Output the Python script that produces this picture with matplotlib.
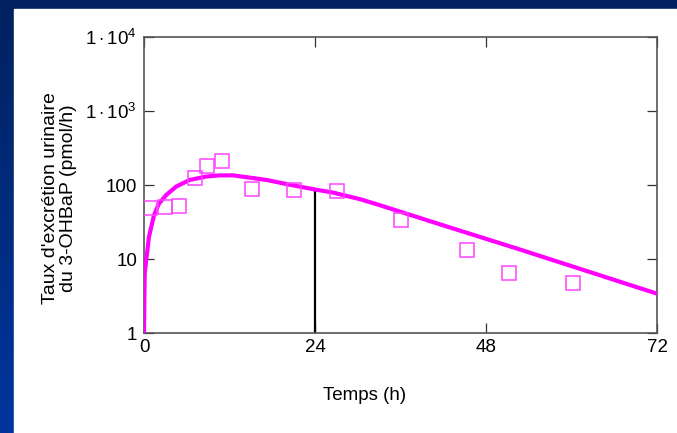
"""Urinary excretion rate of 3-OHBaP vs time, log scale."""

import matplotlib

matplotlib.use("Agg")
import matplotlib.pyplot as plt
import numpy as np
from matplotlib.patches import Rectangle

plt.rcParams["font.family"] = ["Liberation Sans", "DejaVu Sans"]
plt.rcParams["mathtext.fontset"] = "custom"
plt.rcParams["mathtext.rm"] = "Liberation Sans"
plt.rcParams["mathtext.it"] = "Liberation Sans:italic"
plt.rcParams["mathtext.bf"] = "Liberation Sans:bold"

# observed points (h, pmol/h)
obs_t = [0.8, 3.0, 4.9, 7.1, 8.9, 11.0, 15.1, 21.1, 27.1, 36.1, 45.3, 51.2, 60.2]
obs_y = [48.5, 50, 52.6, 125, 181, 211, 89, 85, 82, 33.7, 13.4, 6.5, 4.7]

# model curve
fit_t = [0.0, 0.05, 0.1, 0.33, 0.7, 1.4, 2.1, 3.1, 4.5, 6.4, 8.7, 10.6,
         12.5, 17.2, 20.0, 23.8, 26.6, 30.4, 33.0, 42.6, 52.7, 61.4, 72.0]
fit_y = [1.0, 3.0, 6.4, 10, 20, 39, 56, 73, 95, 117, 130, 135,
         135, 117, 103, 87.6, 78.7, 64, 53.7, 27.3, 13.5, 7.25, 3.4]

# vertical marker at 24 h
mark_t = 24
mark_top = 82

yticks = [1, 10, 100, 1000, 10000]
ylabels = ["1", "10", "100", r"$1\cdot10^{3}$", r"$1\cdot10^{4}$"]
xticks = [0, 24, 48, 72]

FS = 13.5
W, H = 677, 433
fig = plt.figure(figsize=(W / 100, H / 100), dpi=100)

# blue gradient frame + white panel
bg = fig.add_axes([0, 0, 1, 1], zorder=-10)
grad = np.linspace(0, 1, 256).reshape(-1, 1)
top = np.array([0.0, 0.13, 0.37])
bot = np.array([0.0, 0.21, 0.62])
img = top + (bot - top) * grad[:, :, None]
bg.imshow(img, aspect="auto", extent=[0, 1, 0, 1])
bg.add_patch(Rectangle((14 / W, 0), 1, (H - 9) / H, color="white",
                       transform=bg.transAxes))
bg.set_xlim(0, 1)
bg.set_ylim(0, 1)
bg.axis("off")

ax = fig.add_axes([144 / W, (H - 333) / H, 513 / W, 296 / H])
ax.set_facecolor("white")
ax.plot(fit_t, fit_y, color="#ff00ff", linewidth=3.0, zorder=3,
        solid_capstyle="butt")
ax.plot(obs_t, obs_y, linestyle="none", marker="s", markersize=10,
        markerfacecolor="none", markeredgecolor="#ff44ff",
        markeredgewidth=1.1, zorder=4)
ax.vlines(mark_t, 1, mark_top, color="black", linewidth=1.6, zorder=2)

ax.set_yscale("log")
ax.set_xlim(0, 72)
ax.set_ylim(1, 10000)
ax.set_xticks(xticks)
ax.set_xticklabels([str(t) for t in xticks])
ax.set_yticks(yticks)
ax.set_yticklabels(ylabels)
ax.minorticks_off()
ax.tick_params(direction="in", length=7, width=0.9, color="#333333",
               labelsize=FS, top=True, right=True, pad=5)
ax.tick_params(axis="x", pad=4)
for s in ax.spines.values():
    s.set_color("#555555")
    s.set_linewidth(1.2)

ax.set_ylabel("Taux d'excrétion urinaire\ndu 3-OHBaP (pmol/h)",
              fontsize=14, linespacing=1.05)
ax.yaxis.set_label_coords(-(144 - 77) / 513, (333 - 198) / 296)
fig.text(365 / W, 1 - 395 / H, "Temps (h)", ha="center", va="center",
         fontsize=FS)

fig.savefig("out.png", dpi=100)
